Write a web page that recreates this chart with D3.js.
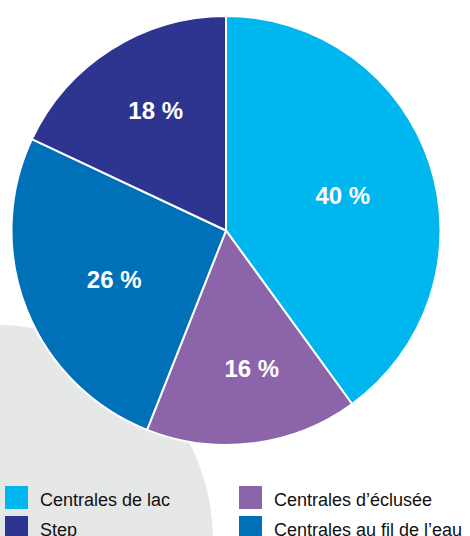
<!DOCTYPE html>
<html><head><meta charset="utf-8">
<script src="https://cdn.jsdelivr.net/npm/d3@7"></script>
<style>html,body{margin:0;padding:0;background:#fff;overflow:hidden}</style>
</head><body>
<svg id="c" width="470" height="536"></svg>
<script>
const categories = ["Centrales de lac", "Centrales d’éclusée", "Centrales au fil de l’eau", "Step"];
const values = [40, 16, 26, 18];
const labels = ["40 %", "16 %", "26 %", "18 %"];
const colors = ["#00b6ef", "#8c64a9", "#0071b9", "#2e3590"];
const labelRadius = [122, 140, 122, 139];
const labelAngleShift = [1.2, -3.4, -2, 2];
const legendOrder = [0, 1, 3, 2];

const svg = d3.select("#c");
const cx = 226, cy = 230.5, R = 214.5;

// grey background disc
svg.append("circle").attr("cx", -3).attr("cy", 541).attr("r", 216).attr("fill", "#e6e7e7");

const pie = d3.pie().sort(null).value(d => d)(values);
const arc = d3.arc().innerRadius(0).outerRadius(R);
const g = svg.append("g").attr("transform", `translate(${cx},${cy})`);
g.selectAll("path").data(pie).join("path")
  .attr("d", arc).attr("fill", (d, i) => colors[i])
  .attr("stroke", "#fff").attr("stroke-width", 2).attr("stroke-linejoin", "round");

g.selectAll("text").data(pie).join("text")
  .attr("transform", (d, i) => {
    const a = (d.startAngle + d.endAngle) / 2 + labelAngleShift[i] * Math.PI / 180;
    const x = labelRadius[i] * Math.sin(a), y = -labelRadius[i] * Math.cos(a);
    return `translate(${x},${y})`;
  })
  .attr("text-anchor", "middle").attr("dy", "0.36em")
  .attr("fill", "#fff").attr("font-family", "Liberation Sans, Arial, sans-serif")
  .attr("font-weight", "bold").attr("font-size", 24)
  .text((d, i) => labels[i]);

// legend
const lg = svg.append("g");
legendOrder.forEach((idx, k) => {
  const col = k % 2;
  const row = Math.floor(k / 2);
  const x = col === 0 ? 5 : 239;
  const y = 486 + row * 30;
  lg.append("rect").attr("x", x).attr("y", y).attr("width", 23).attr("height", 23).attr("fill", colors[idx]);
  lg.append("text").attr("x", x + 35).attr("y", y + 20)
    .attr("font-family", "Liberation Sans, Arial, sans-serif").attr("font-size", 18)
    .attr("fill", "#111").text(categories[idx]);
});
</script>
</body></html>
